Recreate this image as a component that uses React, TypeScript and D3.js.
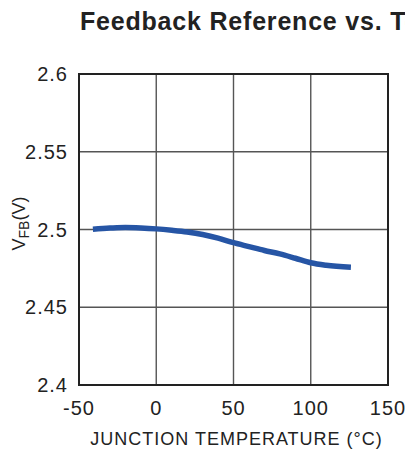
import React, {FC, useEffect, useRef} from 'react';
import * as d3 from 'd3';

// junction temperature (°C) and feedback voltage (V)
const temps = [-41, -30, -20, -10, 0, 10, 20, 30, 40, 50, 60, 70, 80, 90, 100, 110, 126];
const vfb = [
  2.5002, 2.5009, 2.5013, 2.501, 2.5004, 2.4995, 2.4984, 2.4968, 2.4945,
  2.4915, 2.489, 2.4865, 2.4843, 2.4815, 2.4786, 2.477, 2.4757,
];
const xTicks = [-50, 0, 50, 100, 150];
const yTicks = [2.4, 2.45, 2.5, 2.55, 2.6];

const title = 'Feedback Reference vs. Temperature';
const xLabel = 'JUNCTION TEMPERATURE (°C)';

const W = 405;
const H = 451;

const Chart: FC = () => {
  const ref = useRef<SVGSVGElement>(null);

  // plot box
  const margin = {top: 74, right: 17, bottom: 66, left: 79},
    width = W - margin.left - margin.right,
    height = H - margin.top - margin.bottom;

  useEffect(() => {
    const root = d3.select(ref.current);
    root.selectAll('*').remove();
    const font = "'Liberation Sans', Arial, Helvetica, sans-serif";

    // title runs off the right edge, as in the original
    root
      .append('text')
      .attr('x', 80)
      .attr('y', 30)
      .attr('font-family', font)
      .attr('font-weight', 'bold')
      .attr('font-size', 25)
      .attr('letter-spacing', 0.8)
      .attr('fill', '#222')
      .text(title);

    const svg = root
      .append('g')
      .attr('transform', `translate(${margin.left}, ${margin.top})`);

    const x = d3.scaleLinear().domain([-50, 150]).range([0, width]);
    const y = d3.scaleLinear().domain([2.4, 2.6]).range([height, 0]);

    // grid
    svg
      .append('g')
      .selectAll('line')
      .data(xTicks.slice(1, -1))
      .enter()
      .append('line')
      .attr('x1', d => x(d))
      .attr('x2', d => x(d))
      .attr('y1', 0)
      .attr('y2', height)
      .attr('stroke', '#555')
      .attr('stroke-width', 1.4);
    svg
      .append('g')
      .selectAll('line')
      .data(yTicks.slice(1, -1))
      .enter()
      .append('line')
      .attr('x1', 0)
      .attr('x2', width)
      .attr('y1', d => y(d))
      .attr('y2', d => y(d))
      .attr('stroke', '#555')
      .attr('stroke-width', 1.4);

    // curve
    const line = d3
      .line<number>()
      .x((_, i) => x(temps[i]))
      .y(d => y(d))
      .curve(d3.curveMonotoneX);
    svg
      .append('path')
      .datum(vfb)
      .attr('d', line)
      .attr('fill', 'none')
      .attr('stroke', '#2655a5')
      .attr('stroke-width', 5.5);

    // frame
    svg
      .append('rect')
      .attr('width', width)
      .attr('height', height)
      .attr('fill', 'none')
      .attr('stroke', '#222')
      .attr('stroke-width', 2);

    // tick labels
    svg
      .append('g')
      .selectAll('text')
      .data(yTicks)
      .enter()
      .append('text')
      .attr('x', -11)
      .attr('y', d => y(d))
      .attr('dy', '0.36em')
      .attr('text-anchor', 'end')
      .attr('font-family', font)
      .attr('font-size', 20)
      .attr('letter-spacing', 1)
      .attr('fill', '#222')
      .text(d => String(d));
    svg
      .append('g')
      .selectAll('text')
      .data(xTicks)
      .enter()
      .append('text')
      .attr('x', d => x(d))
      .attr('y', height + 30)
      .attr('text-anchor', 'middle')
      .attr('font-family', font)
      .attr('font-size', 20)
      .attr('letter-spacing', 1)
      .attr('fill', '#222')
      .text(d => String(d));

    // axis titles
    svg
      .append('text')
      .attr('x', width / 2 + 3)
      .attr('y', height + 60)
      .attr('text-anchor', 'middle')
      .attr('font-family', font)
      .attr('font-size', 18)
      .attr('letter-spacing', 1)
      .attr('fill', '#222')
      .text(xLabel);

    const yl = svg
      .append('text')
      .attr('transform', `translate(-54, ${y(2.5) - 6}) rotate(-90)`)
      .attr('text-anchor', 'middle')
      .attr('font-family', font)
      .attr('font-size', 18)
      .attr('fill', '#222');
    yl.append('tspan').text('V');
    yl.append('tspan').attr('font-size', 14).attr('dy', 4).text('FB');
    yl.append('tspan').attr('dy', -4).text('(V)');
  }, [height, width, margin.left, margin.top]);

  return <svg ref={ref} width={W} height={H} />;
};

const App: FC = () => (
  <div style={{position: 'absolute', left: 0, top: 0, background: '#fff'}}>
    <Chart />
  </div>
);

export default App;
